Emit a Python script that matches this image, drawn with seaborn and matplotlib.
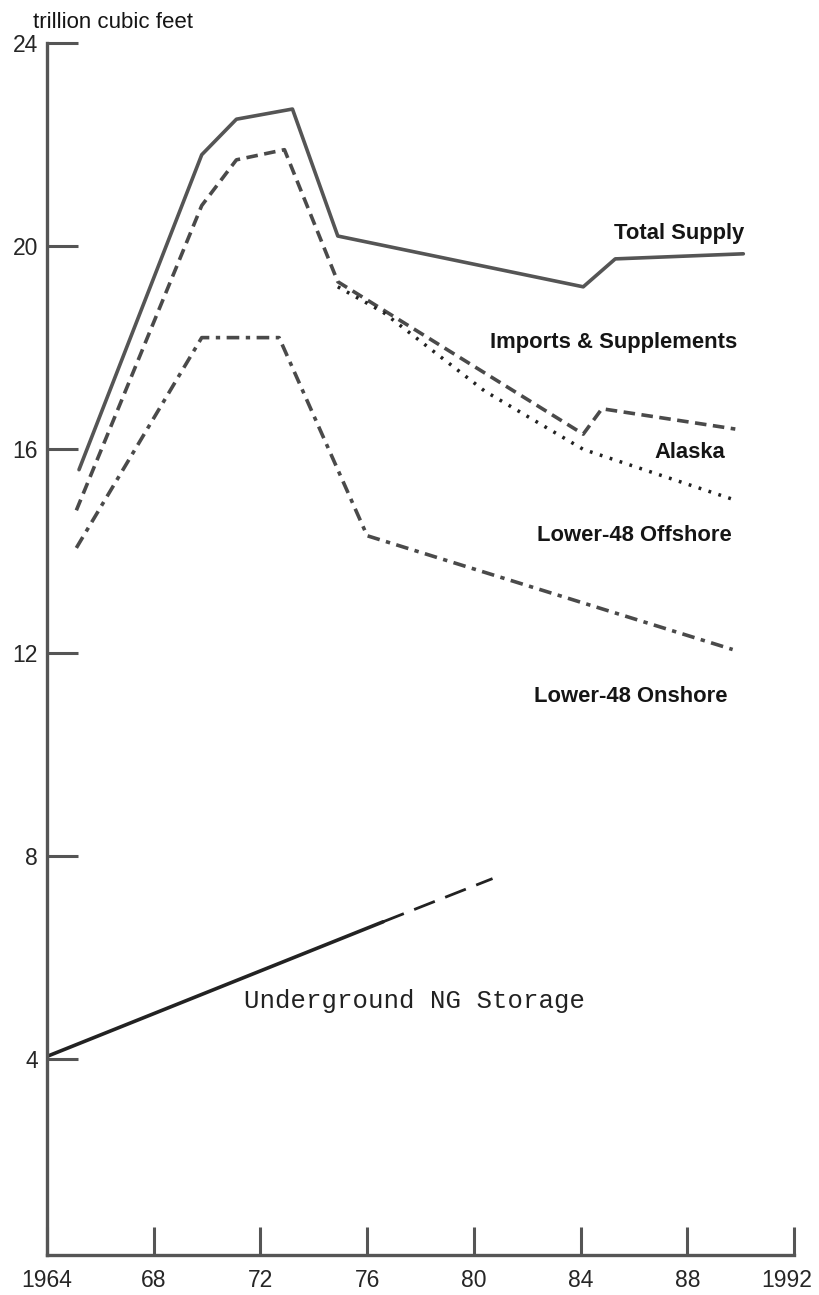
import matplotlib
matplotlib.use("Agg")
import matplotlib.pyplot as plt
import matplotlib.transforms as mtransforms
import seaborn as sns

# --- dados ---
total_years = [1965.2, 1969.8, 1971.1, 1973.2, 1974.9, 1984.1, 1985.3, 1990.1]
total_vals = [15.6, 21.8, 22.5, 22.7, 20.2, 19.2, 19.75, 19.85]

imports_years = [1965.1, 1969.8, 1971.1, 1972.9, 1974.9, 1984.1, 1984.8, 1989.8]
imports_vals = [14.8, 20.8, 21.7, 21.9, 19.3, 16.3, 16.8, 16.4]

alaska_years = [1974.9, 1976.6, 1980.4, 1984.1, 1989.8]
alaska_vals = [19.2, 18.7, 17.15, 16.0, 15.0]

offshore_years = [1965.1, 1969.8, 1972.7, 1976.0, 1989.7]
offshore_vals = [14.06, 18.2, 18.2, 14.3, 12.06]

storage_years = [1964.0, 1976.6, 1980.7]
storage_vals = [4.05, 6.7, 7.55]

x_ticks = [1964, 1968, 1972, 1976, 1980, 1984, 1988, 1992]
x_labels = ['1964', '68', '72', '76', '80', '84', '88', '1992']
y_ticks = [4, 8, 12, 16, 20, 24]

labels = ['Total Supply', 'Imports & Supplements', 'Alaska', 'Lower-48 Offshore', 'Lower-48 Onshore']
label_vals = [20.25, 18.1, 15.94, 14.3, 11.14]
label_right = [1990.13, 1989.87, 1989.42, 1989.68, 1989.5]

# --- estilo ---
sns.set_theme(style="white")
plt.rcParams['font.family'] = ['Liberation Sans', 'DejaVu Sans']

fig = plt.figure(figsize=(8.2, 12.95), dpi=100)
ax = fig.add_axes([47 / 820, 40 / 1295, (794 - 47) / 820, (1252 - 40) / 1295])

cor = '#555555'
sns.lineplot(x=total_years, y=total_vals, ax=ax, color=cor, linewidth=2.6)
sns.lineplot(x=imports_years, y=imports_vals, ax=ax, color='#4a4a4a', linewidth=2.6,
             linestyle=(0, (3.2, 1.8)))
sns.lineplot(x=alaska_years, y=alaska_vals, ax=ax, color='#222222', linewidth=2.5,
             linestyle=(0, (0.8, 2.2)))
sns.lineplot(x=offshore_years, y=offshore_vals, ax=ax, color='#4a4a4a', linewidth=2.6,
             linestyle=(0, (3.5, 1.8, 1.2, 1.8)))
sns.lineplot(x=storage_years[:2], y=storage_vals[:2], ax=ax, color='#222222', linewidth=2.6)
sns.lineplot(x=storage_years[1:], y=storage_vals[1:], ax=ax, color='#222222', linewidth=2.0,
             linestyle=(0, (8, 4)))

# rótulos das séries
for txt, yv, xr in zip(labels, label_vals, label_right):
    ax.text(xr, yv, txt, ha='right', va='center', fontsize=15.8,
            fontweight='bold', color='#151515')
ax.text(1971.4, 5.14, 'Underground NG Storage', ha='left', va='center', fontsize=18.5,
        family=['Liberation Mono', 'DejaVu Sans Mono'], color='#222222')

# eixos
ax.set_xlim(1964, 1992)
ax.set_ylim(0.14, 24)
ax.set_xticks(x_ticks)
ax.set_xticklabels(x_labels)
ax.set_yticks(y_ticks)
ax.set_yticklabels([str(v) for v in y_ticks])
ax.tick_params(axis='y', direction='in', length=22, width=2.2, color=cor, pad=6.5,
               labelsize=16.5, left=True)
ax.tick_params(axis='x', direction='in', length=20, width=2.2, color=cor, pad=10,
               labelsize=16.5, bottom=True)
ax.set_xlabel('')
ax.set_ylabel('')
for lado in ['top', 'right']:
    ax.spines[lado].set_visible(False)
for lado in ['left', 'bottom']:
    ax.spines[lado].set_color(cor)
    ax.spines[lado].set_linewidth(2.4)

# o "1992" fica um pouco à esquerda do traço no original
ultimo = ax.get_xticklabels()[-1]
ultimo.set_transform(ultimo.get_transform() +
                     mtransforms.ScaledTranslation(-7 / 100, 0, fig.dpi_scale_trans))

fig.text(33 / 820, 1 - 22 / 1295, 'trillion cubic feet', ha='left', va='center',
         fontsize=16, color='#151515')

fig.savefig('out.png', dpi=100)
